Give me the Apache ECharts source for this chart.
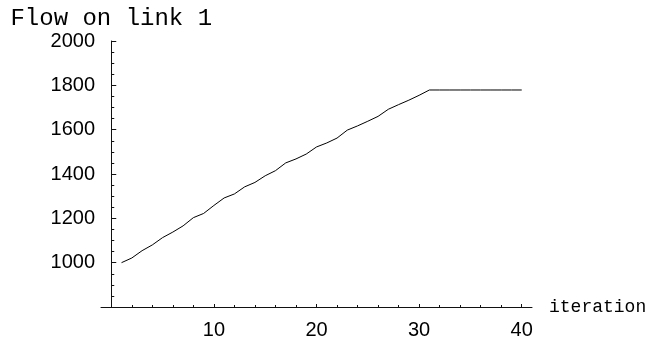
<!DOCTYPE html>
<html>
<head>
<meta charset="utf-8">
<script src="https://cdn.jsdelivr.net/npm/echarts@6/dist/echarts.min.js"></script>
<style>html,body{margin:0;padding:0;background:#fff;}#c{width:657px;height:345px;}</style>
</head>
<body>
<div id="c"></div>
<script>
const iterations = [1,2,3,4,5,6,7,8,9,10,11,12,13,14,15,16,17,18,19,20,21,22,23,24,25,26,27,28,29,30,31,32,33,34,35,36,37,38,39,40];
const flow = [1000,1021,1054,1080,1113,1138,1166,1203,1222,1258,1292,1310,1342,1362,1392,1415,1450,1468,1490,1522,1540,1562,1598,1617,1638,1660,1692,1713,1733,1755,1779,1779,1779,1779,1779,1779,1779,1779,1779,1779];
const xMajorTicks = [10,20,30,40];
const xMinorTicks = [2,4,6,8,12,14,16,18,22,24,26,28,32,34,36,38];
const yMajorTicks = [1000,1200,1400,1600,1800,2000];
const yMinorTicks = [850,900,950,1050,1100,1150,1250,1300,1350,1450,1500,1550,1650,1700,1750,1850,1900,1950];

const gridRect = {left:101, right:125, top:41, bottom:38, containLabel:false};
const axColor = '#111';
const plain = v => String(v);
const chart = echarts.init(document.getElementById('c'), null, {renderer:'canvas'});
chart.setOption({
  animation:false,
  backgroundColor:'#fff',
  grid:[Object.assign({}, gridRect), Object.assign({}, gridRect)],
  xAxis:[{
    type:'value', gridIndex:0, min:-1, max:41,
    name:'iteration', nameLocation:'end', nameGap:17,
    nameTextStyle:{fontFamily:'Liberation Mono', fontSize:18, color:'#000'},
    axisLine:{show:true, lineStyle:{color:axColor, width:1}},
    axisTick:{show:true, inside:true, length:3, customValues:xMajorTicks, lineStyle:{color:axColor}},
    axisLabel:{show:true, customValues:xMajorTicks, formatter:plain, margin:13, fontFamily:'Liberation Sans', fontSize:20, color:'#000'},
    splitLine:{show:false}
  },{
    type:'value', gridIndex:1, min:-1, max:41,
    axisLine:{show:false},
    axisTick:{show:true, inside:true, length:2, customValues:xMinorTicks, lineStyle:{color:axColor}},
    axisLabel:{show:false},
    splitLine:{show:false}
  }],
  yAxis:[{
    type:'value', gridIndex:0, min:800, max:2000,
    name:'Flow on link 1', nameLocation:'end', nameGap:10,
    nameTextStyle:{fontFamily:'Liberation Mono', fontSize:24, color:'#000'},
    axisLine:{show:true, onZero:true, lineStyle:{color:axColor, width:1}},
    axisTick:{show:true, inside:true, length:5, customValues:yMajorTicks, lineStyle:{color:axColor}},
    axisLabel:{show:true, customValues:yMajorTicks, formatter:plain, margin:6, fontFamily:'Liberation Sans', fontSize:20, color:'#000'},
    splitLine:{show:false}
  },{
    type:'value', gridIndex:1, min:800, max:2000,
    axisLine:{show:false, onZero:true},
    axisTick:{show:true, inside:true, length:3, customValues:yMinorTicks, lineStyle:{color:axColor}},
    axisLabel:{show:false},
    splitLine:{show:false}
  }],
  series:[{
    type:'line', xAxisIndex:0, yAxisIndex:0,
    data: iterations.map((x,i)=>[x, flow[i]]),
    showSymbol:false, symbol:'none',
    lineStyle:{color:'#000', width:1},
    silent:true
  }]
});
</script>
</body>
</html>
